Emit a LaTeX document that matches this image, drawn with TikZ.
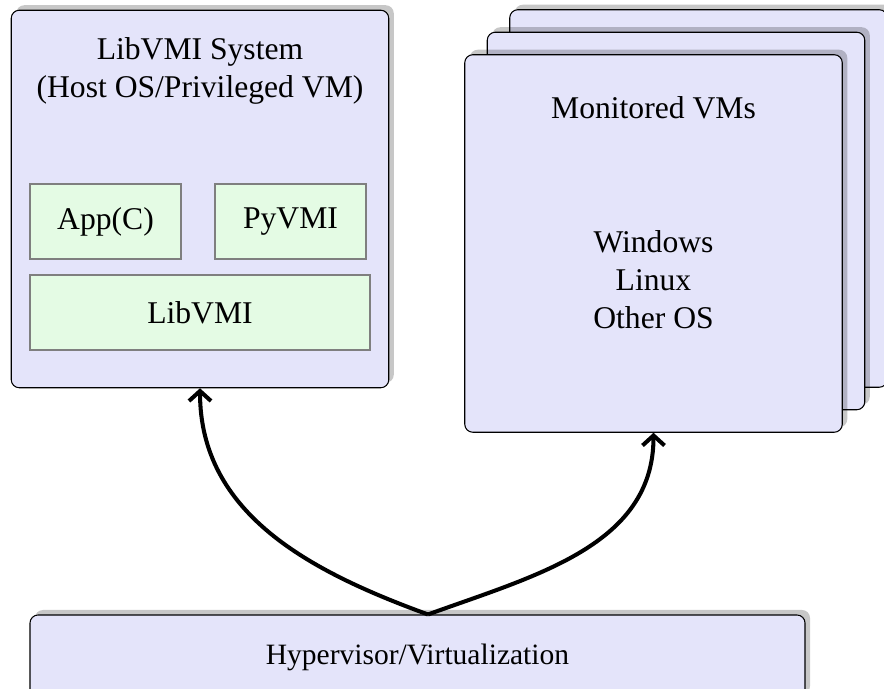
\documentclass[tikz,border=0pt]{standalone}
\usepackage{fontspec}
\setmainfont{Liberation Serif}
\usepackage{tikz}
\usetikzlibrary{shadows,arrows.meta}
\definecolor{vmfill}{HTML}{E4E4FA}
\definecolor{libfill}{HTML}{E4FBE4}
\definecolor{libline}{HTML}{7F7F7F}
\begin{document}
\begin{tikzpicture}[
    font=\fontsize{18}{21.6}\selectfont,
    bigbox/.style={draw=black, line width=0.6pt, fill=vmfill, rounded corners=0.16cm,
      minimum width=7.55cm, minimum height=7.55cm,
      drop shadow={shadow xshift=0.1cm, shadow yshift=0.1cm, opacity=0.22, fill=black}},
    libbox/.style={draw=libline, line width=0.6pt, fill=libfill, minimum height=1.5cm},
    hookarrow/.style={line width=2.3pt, -{Straight Barb[length=2mm,width=4.4mm]}}]
	\useasboundingbox (0,0) rectangle (17.68,13.78);
	% host side
	\node[bigbox] (host) at (4.0,9.80) {};
	\node[align=center] (hosttitle) at (4.0,12.36) {LibVMI System\\(Host OS/Privileged VM)};
	\node[libbox, minimum width=3.02cm] (app) at (2.11,9.35) {App(C)};
	\node[libbox, minimum width=3.02cm] (pyvmi) at (5.81,9.35) {PyVMI};
	\node[libbox, minimum width=6.8cm] (libvmi) at (4.0,7.53) {LibVMI};
	% guest side, three stacked VMs
	\node[bigbox] (vmback) at (13.97,9.81) {};
	\node[bigbox] (vmmid) at (13.52,9.36) {};
	\node[bigbox] (vm) at (13.07,8.91) {};
	\node (vmtitle) at (13.07,11.62) {Monitored VMs};
	\node[align=center] (oslist) at (13.07,8.18) {Windows\\Linux\\Other OS};
	% hypervisor
	\node[bigbox, minimum width=15.5cm, minimum height=1.68cm, font=\fontsize{16.8}{20}\selectfont] (hyp) at (8.35,0.64) {Hypervisor/Virtualization};
	\coordinate (meet) at ([xshift=2.1mm]hyp.north);
	\draw[hookarrow] (meet) to[out=160,in=-90] (host.south);
	\draw[hookarrow] (meet) to[out=20,in=-90] (vm.south);
\end{tikzpicture}
\end{document}
